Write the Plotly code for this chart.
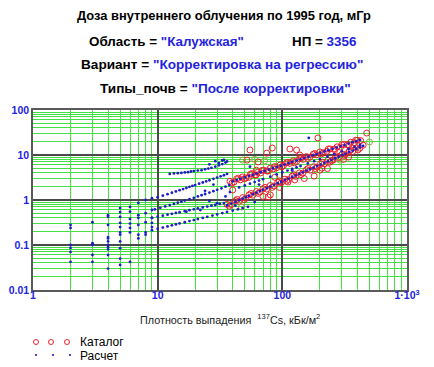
import plotly.graph_objects as go

# ---------------- data ----------------
# "Расчет" (calculated) points, grouped by visible lines / columns
col_x = [2]*6 + [3]*5 + [4]*11 + [5]*11 + [6]*7 + [7]*6 + [8]*5 + [9]*5
col_y = [0.28, 0.24, 0.1, 0.086, 0.07, 0.042,
         0.32, 0.11, 0.1, 0.06, 0.042,
         0.46, 0.42, 0.28, 0.15, 0.14, 0.12, 0.1, 0.09, 0.08, 0.06, 0.03,
         0.66, 0.54, 0.42, 0.31, 0.25, 0.19, 0.17, 0.12, 0.085, 0.05, 0.036,
         0.7, 0.55, 0.38, 0.3, 0.24, 0.19, 0.042,
         0.86, 0.46, 0.4, 0.28, 0.17, 0.14,
         1.0, 0.51, 0.32, 0.19, 0.17,
         1.1, 0.6, 0.4, 0.31, 0.25]

lineA_x = [12.5, 13.5, 14.5, 15.5, 16.5, 17.5, 18.5, 19.5, 21, 22.5, 24, 25.5, 27, 29, 31, 33, 35, 26, 29, 31, 34, 36]
lineA_y = [3.8, 3.9, 3.95, 4.0, 4.1, 4.15, 4.3, 4.4, 4.5, 4.6, 4.8, 5.0, 5.2, 5.5, 5.9, 6.3, 6.8, 6.2, 7.3, 6.6, 7.8, 7.2]

lineB_x = [10, 11, 12, 13, 14, 15, 16, 17, 18, 19, 20, 21.5, 23, 24.5, 26, 28, 30, 32, 34, 36]
lineB_y = [1.15, 1.25, 1.35, 1.45, 1.55, 1.65, 1.75, 1.85, 1.95, 2.05, 2.15, 2.3, 2.45, 2.6, 2.75, 2.95, 3.15, 3.35, 3.55, 3.8]

lineC_x = [9.5, 10.5, 11.5, 12.5, 13.5, 14.5, 15.5, 16.5, 18, 19.5, 21, 22.5, 24, 26, 28, 30, 32.5, 35, 37.5,
           40, 43, 46, 50, 54, 58, 62, 67, 72, 78, 84, 90, 97, 104, 112, 120, 130, 140, 150, 162, 175, 188,
           202, 218, 235, 253, 272, 293, 315, 340, 365, 392, 420]
lineC_y = [0.62, 0.67, 0.72, 0.77, 0.82, 0.87, 0.92, 0.97, 1.05, 1.12, 1.2, 1.28, 1.36, 1.46, 1.57, 1.68, 1.82, 1.98, 2.15,
           2.6, 2.77, 2.95, 3.18, 3.41, 3.63, 3.86, 4.14, 4.41, 4.75, 5.07, 5.4, 5.77, 6.14, 6.57, 6.99, 7.51, 8.03, 8.53, 9.14, 9.8, 10.45,
           11.2, 12.0, 12.8, 13.7, 14.6, 15.6, 16.7, 17.9, 19.1, 20.3, 21.6]

lineD_x = [9, 10, 11, 12, 13, 14, 15, 16.5, 18, 19.5, 21, 23, 25, 27, 29, 31.5, 34,
           36, 39, 42, 45, 48, 51, 54, 58, 62, 66, 70, 75, 80, 86, 92, 98, 105, 112, 120, 128, 137, 146, 156,
           167, 178, 190, 203, 217, 232, 248, 265, 283, 302, 322, 344, 367, 392, 418, 445]
lineD_y = [0.4, 0.424, 0.448, 0.471, 0.494, 0.515, 0.536, 0.565, 0.594, 0.621, 0.649, 0.683, 0.716, 0.748, 0.779, 0.816, 0.853,
           0.757, 0.834, 0.912, 0.992, 1.072, 1.154, 1.237, 1.348, 1.461, 1.577, 1.693, 1.84, 1.989, 2.172, 2.356, 2.543, 2.765, 2.989, 3.249, 3.514, 3.815, 4.12, 4.464,
           4.847, 5.236, 5.666, 6.138, 6.654, 7.215, 7.821, 8.475, 9.176, 9.926, 10.73, 11.62, 12.57, 13.61, 14.71, 15.87]

lineE_x = [9, 10, 11, 12, 13, 14, 15, 16.5, 18, 19.5, 21, 23, 25, 27.5, 30, 33, 36, 40, 44, 48, 53]
lineE_y = [0.214, 0.229, 0.244, 0.259, 0.273, 0.286, 0.301, 0.32, 0.34, 0.358, 0.376, 0.4, 0.423, 0.451, 0.479, 0.511, 0.543, 0.583, 0.622, 0.66, 0.705]

lineF_x = [45, 50, 55, 60, 65, 70, 80, 90, 100, 110, 120, 130, 140, 160, 180, 200, 230, 260, 300, 340, 380, 420]
lineF_y = [1.9, 2.1, 2.3, 2.5, 2.7, 2.9, 3.3, 3.7, 4.1, 4.5, 4.9, 5.3, 5.7, 6.5, 7.3, 8.1, 9.2, 10.4, 12.0, 13.6, 15.2, 16.8]

extra_x = [17, 22, 26, 30, 24, 35, 28, 38, 42, 60, 65, 163, 55, 120, 33]
extra_y = [0.55, 0.6, 0.95, 0.85, 1.6, 1.2, 2.2, 1.5, 0.75, 0.9, 2.2, 23.9, 5.5, 4.5, 7.6]

# "Каталог" (catalogue) points
catU_x = [38, 41, 43, 46, 48, 51, 54, 57, 60, 63, 67, 71, 75, 80, 85, 90, 96, 102, 108, 115, 122, 130, 138, 147,
          156, 166, 177, 188, 200, 213, 227, 242, 258, 275, 293, 312, 332, 354, 377, 400, 425,
          39.5, 44.5, 49.5, 55.5, 61.5, 69, 77, 87, 99, 111, 125, 142, 160, 182, 206, 234, 265, 300, 342, 388]
catU_y = [2.6, 2.5, 2.95, 2.8, 3.25, 3.1, 3.2, 3.85, 3.6, 4.1, 4.0, 4.6, 4.4, 5.1, 4.9, 5.2, 6.0, 5.8, 6.7, 6.5, 7.4, 7.2, 8.3, 8.0,
          9.2, 8.9, 10.4, 10.1, 11.7, 11.2, 12.0, 13.6, 13.4, 15.2, 15.0, 17.2, 16.9, 19.2, 18.8, 21.3, 20.9,
          2.4, 3.05, 2.95, 3.75, 3.6, 4.55, 4.4, 5.55, 5.45, 6.9, 6.7, 8.6, 8.4, 10.8, 10.6, 13.6, 13.4, 17.0, 16.8, 21.3]
catL_x = [36, 39, 42, 45, 48, 51, 54, 58, 62, 66, 70, 75, 80, 86, 92, 98, 105, 112, 120, 128, 137, 146, 156, 167,
          178, 190, 203, 217, 232, 248, 265, 283, 302, 322, 344, 367, 392, 418, 445,
          37.5, 43.5, 49.5, 56, 64, 72.5, 83, 95, 108, 124, 141, 161, 184, 210, 240, 274, 312, 355, 405]
catL_y = [0.8, 0.79, 0.97, 0.94, 1.13, 1.1, 1.3, 1.28, 1.54, 1.5, 1.78, 1.75, 2.1, 2.05, 2.48, 2.42, 2.9, 2.85, 3.4, 3.35, 4.0, 3.95, 4.7, 4.6,
          5.5, 5.4, 6.45, 6.35, 7.6, 7.45, 8.9, 8.75, 10.4, 10.3, 12.2, 12.0, 14.3, 14.1, 16.5,
          0.73, 1.03, 1.02, 1.39, 1.4, 1.91, 1.91, 2.65, 2.63, 3.65, 3.65, 5.02, 5.0, 6.9, 6.92, 9.5, 9.5, 13.0, 13.0]
catO_x = [55, 83, 193, 475, 52, 64, 75, 115, 130, 138, 200, 255, 77, 111, 126, 40, 62, 70, 150, 230, 310, 340, 95, 180, 87, 80, 208]
catO_y = [12.9, 14.3, 23.9, 30.8, 7.7, 7.0, 11.0, 13.6, 12.9, 10.0, 4.6, 7.7, 1.17, 2.5, 2.8, 1.67, 4.6, 1.2, 3.0, 5.0, 8.0, 9.0, 1.9, 3.4, 3.2, 1.3, 5.1]
olive_x = [48, 290, 500, 47, 60, 72]
olive_y = [7.7, 7.7, 19.5, 0.7, 8.0, 7.4]

x_ticks = [1, 10, 100, 1000]
x_ticktext = ["1", "10", "100", "1·10<sup>3</sup>"]
y_ticks = [0.01, 0.1, 1, 10, 100]
y_ticktext = ["0.01", "0.1", "1", "10", "100"]

calc_x = col_x + lineA_x + lineB_x + lineC_x + lineD_x + lineE_x + lineF_x + extra_x
calc_y = col_y + lineA_y + lineB_y + lineC_y + lineD_y + lineE_y + lineF_y + extra_y
cat_x = catU_x + catL_x + catO_x
cat_y = catU_y + catL_y + catO_y

# ---------------- figure ----------------
W, H = 434, 367
L, R, T, B = 33, 27, 110, 77
PW, PH = W - L - R, H - T - B

def px(xp):
    return (xp - L) / PW

def py(yp):
    return (H - B - yp) / PH

RED = "#f02030"
BLUE = "#1c1cc8"
TXTBLUE = "#2424e0"
FONT = "Liberation Sans, Arial, sans-serif"

fig = go.Figure()
fig.add_trace(go.Scatter(x=cat_x, y=cat_y, mode="markers", name="Каталог",
                         marker=dict(symbol="circle-open", size=6, color=RED, line=dict(width=1, color=RED))))
fig.add_trace(go.Scatter(x=olive_x, y=olive_y, mode="markers", showlegend=False,
                         marker=dict(symbol="circle-open", size=6, color="#a09a40", line=dict(width=1, color="#a09a40"))))
fig.add_trace(go.Scatter(x=calc_x, y=calc_y, mode="markers", name="Расчет",
                         marker=dict(symbol="circle", size=2.8, color=BLUE)))

axis_common = dict(type="log", showline=True, mirror=True, linecolor="#5a5a5a", linewidth=1.5,
                   showgrid=True, gridcolor="#4a4a4a", gridwidth=1.5, ticks="", zeroline=False,
                   automargin=False,
                   tickfont=dict(family=FONT, size=10.5, color=TXTBLUE, weight="bold"),
                   minor=dict(showgrid=True, gridcolor="#44e044", gridwidth=1, dtick="D1", ticks=""))
fig.update_xaxes(range=[0, 3], tickvals=x_ticks, ticktext=x_ticktext, ticklabelstandoff=-5, **axis_common)
fig.update_yaxes(range=[-2, 2], tickvals=y_ticks, ticktext=y_ticktext, ticklabelstandoff=0, **axis_common)

ann = []
def txt(xp, yp, text, size=12, anchor="center", color="black"):
    ann.append(dict(x=px(xp), y=py(yp), xref="paper", yref="paper", text=text, showarrow=False,
                    xanchor=anchor, yanchor="middle", font=dict(family=FONT, size=size, color=color)))

txt(224, 15, "<b>Доза внутреннего облучения по 1995 год, мГр</b>", size=12.9)
txt(87, 41, '<b>Область = <span style="color:%s">"Калужская"</span></b>' % TXTBLUE, size=13.4, anchor="left")
txt(290, 41, '<b>НП = <span style="color:%s">3356</span></b>' % TXTBLUE, size=13.4, anchor="left")
txt(222, 64, '<b>Вариант = <span style="color:%s">"Корректировка на регрессию"</span></b>' % TXTBLUE, size=13.6)
txt(226, 88, '<b>Типы_почв = <span style="color:%s">"После корректировки"</span></b>' % TXTBLUE, size=13.6)
txt(230, 319, "Плотность выпадения  <sup>137</sup>Cs, кБк/м<sup>2</sup>", size=10.8, color="#202020")
txt(78, 342, "Каталог", size=12, anchor="left")
txt(78, 356, "Расчет", size=12, anchor="left")

shapes = []
for cx in (36, 51, 67):
    shapes.append(dict(type="circle", xref="paper", yref="paper", xsizemode="pixel", ysizemode="pixel",
                       xanchor=px(cx), yanchor=py(342), x0=-2.5, x1=2.5, y0=-2.5, y1=2.5,
                       line=dict(color=RED, width=1)))
for cx in (36, 53, 70):
    shapes.append(dict(type="circle", xref="paper", yref="paper", xsizemode="pixel", ysizemode="pixel",
                       xanchor=px(cx), yanchor=py(355), x0=-1.1, x1=1.1, y0=-1.1, y1=1.1,
                       fillcolor=BLUE, line=dict(color=BLUE, width=0)))

fig.update_layout(width=W, height=H, margin=dict(l=L, r=R, t=T, b=B, autoexpand=False),
                  paper_bgcolor="white", plot_bgcolor="white", showlegend=False,
                  annotations=ann, shapes=shapes, font=dict(family=FONT))
fig.write_html("out.html", config={"displayModeBar": False},
               post_script="document.body.style.margin='0';document.body.style.padding='0';")
